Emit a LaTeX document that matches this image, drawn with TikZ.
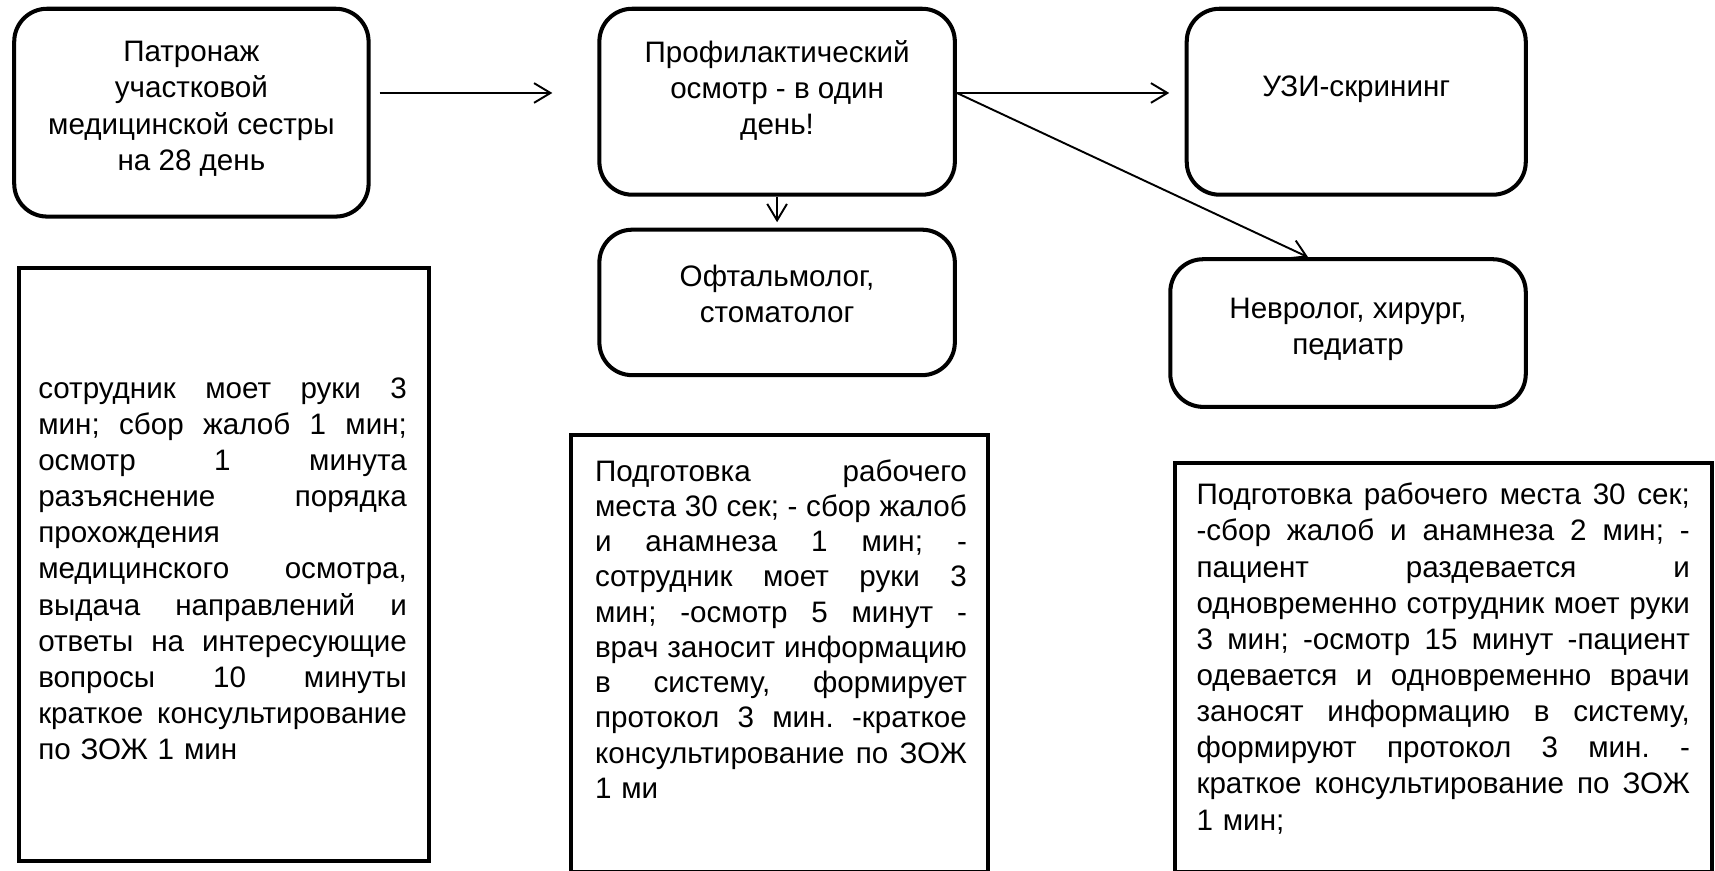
\documentclass[tikz,border=0pt]{standalone}
\usepackage{fontspec}
\setmainfont{Liberation Sans}
\usetikzlibrary{arrows.meta,positioning}
\setlength{\parindent}{0pt}
\frenchspacing
\newlength{\jw}
\newcommand{\jl}[1]{\leavevmode\hbox to \jw{\spaceskip=0.278em plus 1fil\relax#1}\\}

\begin{document}
\begin{tikzpicture}[x=0.1mm,y=-0.1mm,>={Straight Barb[length=1.5mm,width=1.8mm]},
	rbox/.style={draw,line width=1.05pt,rounded corners=3mm,inner sep=0pt},
	sbox/.style={draw,line width=1.05pt,inner sep=0pt},
	lbl/.style={align=center,inner sep=0pt,font=\fontsize{7.7}{9.4}\selectfont},
	para/.style={inner sep=0pt,align=left,font=\fontsize{7.7}{9.4}\selectfont,
		text width=#1,execute at begin node={\setlength{\jw}{#1}}},
	arr/.style={->,line width=0.5pt}
	]
	\useasboundingbox (0,0) rectangle (1568,796);

	% top row
	\node[rbox,minimum width=32.4mm,minimum height=19mm] (pat) at (175,103) {};
	\node[lbl] (patT) at (175,99.5) {Патронаж\\участковой\\медицинской сестры\\на 28 день};

	\node[rbox,minimum width=32.5mm,minimum height=17mm] (prof) at (710.5,93) {};
	\node[lbl] (profT) at (710.5,83) {Профилактический\\осмотр - в один\\день!};

	\node[rbox,minimum width=31mm,minimum height=17mm] (uzi) at (1240,93) {};
	\node[lbl] (uziT) at (1240,82) {УЗИ-скрининг};

	\node[rbox,minimum width=32.5mm,minimum height=13.3mm] (oft) at (710.5,276.5) {};
	\node[lbl] (oftT) at (710.5,268.5) {Офтальмолог,\\стоматолог};

	\node[rbox,minimum width=32.5mm,minimum height=13.5mm] (nev) at (1232.5,304.5) {};
	\node[lbl] (nevT) at (1232.5,301) {Невролог, хирург,\\педиатр};

	% timing boxes
	\node[sbox,minimum width=37.5mm,minimum height=54.2mm] (t1) at (204.5,516) {};
	\node[para=33.7mm] (t1T) at (203.5,520) {%
		\jl{сотрудник моет руки 3}
		\jl{мин; сбор жалоб 1 мин;}
		\jl{осмотр 1 минута}
		\jl{разъяснение порядка}
		прохождения\\
		\jl{медицинского осмотра,}
		\jl{выдача направлений и}
		\jl{ответы на интересующие}
		\jl{вопросы 10 минуты}
		\jl{краткое консультирование}
		по ЗОЖ 1 мин};

	\node[sbox,minimum width=38.1mm,minimum height=39.9mm] (t2) at (712.5,597.5) {};
	\node[para=34mm,font=\fontsize{7.7}{9.17}\selectfont] (t2T) at (714,575) {%
		\jl{Подготовка рабочего}
		\jl{места 30 сек; - сбор жалоб}
		\jl{и анамнеза 1 мин; -}
		\jl{сотрудник моет руки 3}
		\jl{мин; -осмотр 5 минут -}
		\jl{врач заносит информацию}
		\jl{в систему, формирует}
		\jl{протокол 3 мин. -краткое}
		\jl{консультирование по ЗОЖ}
		1 ми};

	\node[sbox,minimum width=49.1mm,minimum height=37.4mm] (t3) at (1319.5,610) {};
	\node[para=45.1mm] (t3T) at (1319.5,602) {%
		\jl{Подготовка рабочего места 30 сек;}
		\jl{-сбор жалоб и анамнеза 2 мин; -}
		\jl{пациент раздевается и}
		\jl{одновременно сотрудник моет руки}
		\jl{3 мин; -осмотр 15 минут -пациент}
		\jl{одевается и одновременно врачи}
		\jl{заносят информацию в систему,}
		\jl{формируют протокол 3 мин. -}
		\jl{краткое консультирование по ЗОЖ}
		1 мин;};

	% arrows
	\coordinate (a1s) at (347,85);
	\coordinate (a1e) at (505,85);
	\coordinate (a2e) at (1069,85);
	\draw[arr] (a1s) -- (a1e);
	\draw[arr] ([yshift=0.8mm]prof.east) -- (a2e);
	\draw[arr] ([yshift=0.8mm]prof.east) -- ([xshift=-3.65mm]nev.north);
	\draw[arr] (prof.south) -- ([yshift=0.5mm]oft.north);

\end{tikzpicture}
\end{document}
